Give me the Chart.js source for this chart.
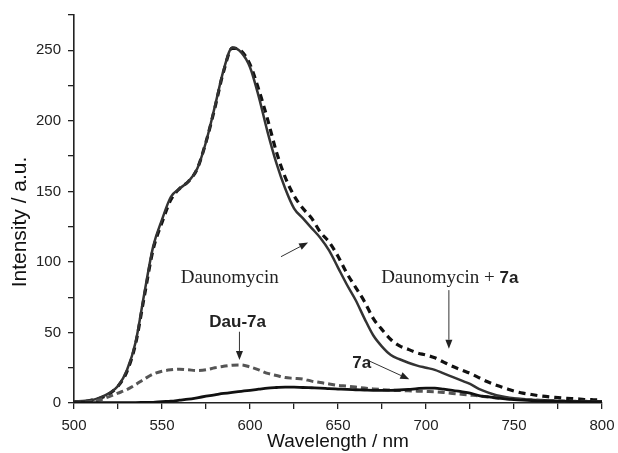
<!DOCTYPE html>
<html>
<head>
<meta charset="utf-8">
<script src="https://cdn.jsdelivr.net/npm/chart.js@4.4.1/dist/chart.umd.min.js"></script>
<style>
  html, body { margin: 0; padding: 0; background: #fff; }
  #wrap { width: 618px; height: 453px; position: relative; }
</style>
</head>
<body>
<div id="wrap"><canvas id="c" width="618" height="453"></canvas></div>
<script>
// ---- data ----
const wavelengths = [500,505,510,515,520,525,530,535,540,545,550,555,560,565,570,575,580,585,590,595,600,605,610,615,620,625,630,635,640,645,650,655,660,665,670,675,680,685,690,695,700,705,710,715,720,725,730,735,740,745,750,755,760,765,770,775,780,785,790,795,800];

const daunomycin = [1,1.5,2,4,7,12,23,43,78,111,130,146,152,157,166,185,210,236,252,248.5,238,217,192,170,152,138,131,124,117,108,96,84,73,60,48,40,34,31,28.5,26.5,25,23.5,21,18.5,16,13.5,10,7.5,5.5,4.2,3.3,2.8,2.3,2,1.8,1.5,1.3,1.2,1.1,1,1];

const daunomycinPlus7a = [1,1,2,3.5,6.5,12,22,42,76,109,128,144,152,157,166,185,209,235,251.5,249.5,240,222,201,178,160,147,138,131,121,114,104,92,82,72,60,52,45,40.5,38,35.5,34,32,29,26,23.5,21,18,15,12.5,10.5,8.5,7,6,5,4.3,3.8,3.3,3,2.5,2.3,2.2];

const dau7a = [0.5,0.5,1,2.3,4.5,7,9.5,13,17,20.5,22.5,23.5,24,23.5,23,23.5,25,26,26.8,27,25.5,23.5,21,19.5,18,17.5,17,15.5,14.5,13.5,12.5,12,11.3,10.6,10,9.5,9.2,8.9,8.6,8.4,8.2,8,7.5,6.8,6.2,5.6,5,4.2,3.6,3.1,2.8,2.5,2.3,2,1.8,1.6,1.4,1.3,1.2,1.1,1];

const sevenA = [0.3,0.3,0.3,0.3,0.3,0.3,0.3,0.3,0.4,0.5,1,1.3,2,2.7,3.7,4.8,5.8,6.8,7.6,8.3,9,9.8,10.6,11,11.3,11.3,11,10.8,10.6,10.2,9.9,9.6,9.4,9.2,9,8.9,9,9.2,9.6,10.2,10.6,10.5,9.8,9,8,7,5.3,4.5,3.7,3,2.4,2,1.7,1.5,1.3,1.2,1.1,1,1,1,1];

const xTickLabels = [500,550,600,650,700,750,800];
const yTickLabels = [0,50,100,150,200,250];

// annotations, anchored in data coordinates
const labels = [
  { parts: [{t:'Daunomycin', f:'19px "Liberation Serif", "Times New Roman", serif'}], x: 588.5, y: 89 },
  { parts: [{t:'Daunomycin + ', f:'19px "Liberation Serif", "Times New Roman", serif'},
            {t:'7a', f:'bold 17px "Liberation Sans", Arial, sans-serif'}], x: 713.5, y: 89 },
  { parts: [{t:'Dau-7a', f:'bold 17px "Liberation Sans", Arial, sans-serif'}], x: 593, y: 58 },
  { parts: [{t:'7a', f:'bold 17px "Liberation Sans", Arial, sans-serif'}], x: 663.5, y: 29 }
];
const arrows = [
  { x1: 617.6, y1: 103.7, x2: 633, y2: 113.8 },
  { x1: 713, y1: 80, x2: 713, y2: 38.5 },
  { x1: 594, y1: 50.5, x2: 594, y2: 30.5 },
  { x1: 666.5, y1: 30.5, x2: 690.5, y2: 16.8 }
];
const yTitle = 'Intensity / a.u.';

const toXY = arr => wavelengths.map((w, i) => ({ x: w, y: arr[i] }));

const annotate = {
  id: 'annotate',
  afterDatasetsDraw(chart) {
    const ctx = chart.ctx, xs = chart.scales.x, ys = chart.scales.y;
    ctx.save();
    ctx.fillStyle = '#222';
    ctx.textBaseline = 'alphabetic';
    labels.forEach(l => {
      let w = 0;
      l.parts.forEach(p => { ctx.font = p.f; w += ctx.measureText(p.t).width; });
      let x = xs.getPixelForValue(l.x) - w / 2;
      const y = ys.getPixelForValue(l.y) + 6;
      l.parts.forEach(p => {
        ctx.font = p.f; ctx.textAlign = 'left';
        ctx.fillText(p.t, x, y);
        x += ctx.measureText(p.t).width;
      });
    });
    ctx.strokeStyle = '#333'; ctx.fillStyle = '#222'; ctx.lineWidth = 1;
    arrows.forEach(a => {
      const x1 = xs.getPixelForValue(a.x1), y1 = ys.getPixelForValue(a.y1);
      const x2 = xs.getPixelForValue(a.x2), y2 = ys.getPixelForValue(a.y2);
      const ang = Math.atan2(y2 - y1, x2 - x1);
      const hl = 9, hw = 3.5;
      const bx = x2 - hl * Math.cos(ang), by = y2 - hl * Math.sin(ang);
      ctx.beginPath(); ctx.moveTo(x1, y1); ctx.lineTo(bx, by); ctx.stroke();
      ctx.beginPath();
      ctx.moveTo(x2, y2);
      ctx.lineTo(bx + hw * Math.sin(ang), by - hw * Math.cos(ang));
      ctx.lineTo(bx - hw * Math.sin(ang), by + hw * Math.cos(ang));
      ctx.closePath(); ctx.fill();
    });
    // y axis title
    ctx.translate(20, (ys.top + ys.bottom) / 2 + 13);
    ctx.rotate(-Math.PI / 2);
    ctx.font = '21px "Liberation Sans", Arial, sans-serif';
    ctx.fillStyle = '#111';
    ctx.textAlign = 'center';
    ctx.textBaseline = 'middle';
    ctx.fillText(yTitle, 0, 0);
    ctx.restore();
  }
};

const tickFont = { family: '"Liberation Sans", Arial, sans-serif', size: 15 };
const titleFont = { family: '"Liberation Sans", Arial, sans-serif', size: 19 };

new Chart(document.getElementById('c'), {
  type: 'line',
  data: {
    datasets: [
      { label: '7a', data: toXY(sevenA), borderColor: '#111', borderWidth: 2.8 },
      { label: 'Dau-7a', data: toXY(dau7a), borderColor: '#555', borderWidth: 3, borderDash: [7, 4] },
      { label: 'Daunomycin', data: toXY(daunomycin), borderColor: '#333', borderWidth: 2.5 },
      { label: 'Daunomycin + 7a', data: toXY(daunomycinPlus7a), borderColor: '#111', borderWidth: 3.2, borderDash: [7, 5] }
    ]
  },
  options: {
    responsive: false,
    animation: false,
    devicePixelRatio: 1,
    layout: { padding: { top: 15, right: 16, left: 0, bottom: 0 } },
    elements: { point: { radius: 0 }, line: { cubicInterpolationMode: 'monotone', fill: false } },
    plugins: { legend: { display: false }, tooltip: { enabled: false } },
    scales: {
      x: {
        type: 'linear', min: 500, max: 800,
        afterFit: s => { s.height = 50; s.paddingRight = 0; s.paddingLeft = 0; },
        ticks: {
          stepSize: 25, autoSkip: false, maxRotation: 0, color: '#222', font: tickFont, padding: 8,
          callback: v => xTickLabels.includes(v) ? String(v) : ''
        },
        grid: { display: true, drawOnChartArea: false, drawTicks: true, tickLength: 6, color: '#222', lineWidth: 1.3 },
        border: { display: true, color: '#222', width: 1.6 },
        title: { display: true, text: 'Wavelength / nm', color: '#111', font: titleFont, padding: { top: 0, bottom: 0 } }
      },
      y: {
        type: 'linear', min: 0, max: 275,
        afterFit: s => { s.width = 74; s.paddingTop = 0; s.paddingBottom = 0; },
        ticks: {
          stepSize: 25, autoSkip: false, color: '#222', font: tickFont, padding: 7,
          callback: v => yTickLabels.includes(v) ? String(v) : ''
        },
        grid: { display: true, drawOnChartArea: false, drawTicks: true, tickLength: 6, color: '#222', lineWidth: 1.3 },
        border: { display: true, color: '#222', width: 1.6 },
        title: { display: false }
      }
    }
  },
  plugins: [annotate]
});
</script>
</body>
</html>
